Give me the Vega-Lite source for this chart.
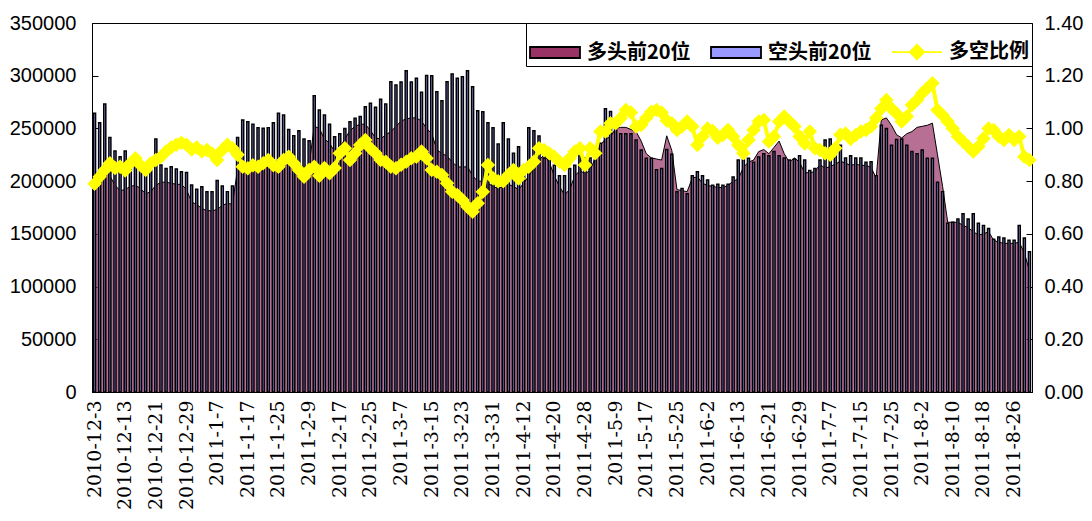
{
"$schema": "https://vega.github.io/schema/vega-lite/v6.json",
"width": 940, "height": 369,
"autosize": {"type": "none"},
"padding": {"left": 92, "top": 23, "right": 60, "bottom": 129},
"background": "white",
"config": {"view": {"stroke": "black", "strokeWidth": 1}, "font": "Liberation Sans",
  "legend": {"orient": "top-right", "direction": "horizontal", "offset": 0, "padding": 3, "strokeColor": "black", "fillColor": "white",
    "symbolSize": 2500, "symbolStrokeWidth": 1.8, "labelFont": "Noto Sans CJK SC", "labelFontSize": 20, "labelFontWeight": "bold", "labelColor": "black", "labelOffset": 6, "columnPadding": 16}},
"data": {"values": [
{"d":"2010-12-3","long":205000,"short":264300,"ratio":0.79},
{"d":"2010-12-6","long":205000,"short":255400,"ratio":0.817},
{"d":"2010-12-7","long":210000,"short":273200,"ratio":0.842},
{"d":"2010-12-8","long":205000,"short":241500,"ratio":0.868},
{"d":"2010-12-9","long":196000,"short":228600,"ratio":0.85},
{"d":"2010-12-10","long":191000,"short":223200,"ratio":0.855},
{"d":"2010-12-13","long":192000,"short":228600,"ratio":0.84},
{"d":"2010-12-14","long":195000,"short":218000,"ratio":0.868},
{"d":"2010-12-15","long":196000,"short":225000,"ratio":0.887},
{"d":"2010-12-16","long":193000,"short":215000,"ratio":0.86},
{"d":"2010-12-17","long":188000,"short":213000,"ratio":0.842},
{"d":"2010-12-20","long":190000,"short":210000,"ratio":0.868},
{"d":"2010-12-21","long":196000,"short":240000,"ratio":0.88},
{"d":"2010-12-22","long":199000,"short":215300,"ratio":0.893},
{"d":"2010-12-23","long":199000,"short":212100,"ratio":0.912},
{"d":"2010-12-24","long":198000,"short":213700,"ratio":0.928},
{"d":"2010-12-27","long":197000,"short":211500,"ratio":0.938},
{"d":"2010-12-28","long":197000,"short":209000,"ratio":0.946},
{"d":"2010-12-29","long":192000,"short":208300,"ratio":0.938},
{"d":"2010-12-30","long":180000,"short":196300,"ratio":0.92},
{"d":"2010-12-31","long":178000,"short":192200,"ratio":0.928},
{"d":"2011-1-4","long":174000,"short":194800,"ratio":0.912},
{"d":"2011-1-5","long":172000,"short":190000,"ratio":0.918},
{"d":"2011-1-6","long":172000,"short":190000,"ratio":0.905},
{"d":"2011-1-7","long":173000,"short":200500,"ratio":0.88},
{"d":"2011-1-10","long":177000,"short":195400,"ratio":0.918},
{"d":"2011-1-11","long":179000,"short":190000,"ratio":0.938},
{"d":"2011-1-12","long":178000,"short":195400,"ratio":0.925},
{"d":"2011-1-13","long":212000,"short":241500,"ratio":0.9},
{"d":"2011-1-14","long":215000,"short":258000,"ratio":0.855},
{"d":"2011-1-17","long":216000,"short":256400,"ratio":0.849},
{"d":"2011-1-18","long":214000,"short":253900,"ratio":0.86},
{"d":"2011-1-19","long":213000,"short":250700,"ratio":0.855},
{"d":"2011-1-20","long":216000,"short":250100,"ratio":0.868},
{"d":"2011-1-21","long":218000,"short":250700,"ratio":0.88},
{"d":"2011-1-24","long":217000,"short":255400,"ratio":0.86},
{"d":"2011-1-25","long":215000,"short":264300,"ratio":0.855},
{"d":"2011-1-26","long":226000,"short":262700,"ratio":0.88},
{"d":"2011-1-27","long":220000,"short":249100,"ratio":0.893},
{"d":"2011-1-28","long":212000,"short":243100,"ratio":0.868},
{"d":"2011-1-31","long":208000,"short":247900,"ratio":0.842},
{"d":"2011-2-1","long":200000,"short":240000,"ratio":0.817},
{"d":"2011-2-9","long":215000,"short":238400,"ratio":0.842},
{"d":"2011-2-10","long":252000,"short":281100,"ratio":0.855},
{"d":"2011-2-11","long":250000,"short":267500,"ratio":0.82},
{"d":"2011-2-14","long":240000,"short":262700,"ratio":0.85},
{"d":"2011-2-15","long":236000,"short":253900,"ratio":0.83},
{"d":"2011-2-16","long":228000,"short":242200,"ratio":0.85},
{"d":"2011-2-17","long":232000,"short":245000,"ratio":0.906},
{"d":"2011-2-18","long":240000,"short":250000,"ratio":0.925},
{"d":"2011-2-21","long":248000,"short":256400,"ratio":0.88},
{"d":"2011-2-22","long":252000,"short":259600,"ratio":0.906},
{"d":"2011-2-23","long":254000,"short":261200,"ratio":0.937},
{"d":"2011-2-24","long":254000,"short":270600,"ratio":0.956},
{"d":"2011-2-25","long":248000,"short":273800,"ratio":0.925},
{"d":"2011-2-28","long":241000,"short":270000,"ratio":0.906},
{"d":"2011-3-1","long":240000,"short":277600,"ratio":0.88},
{"d":"2011-3-2","long":244000,"short":273200,"ratio":0.874},
{"d":"2011-3-3","long":247000,"short":294300,"ratio":0.855},
{"d":"2011-3-4","long":252000,"short":291200,"ratio":0.849},
{"d":"2011-3-7","long":257000,"short":294000,"ratio":0.862},
{"d":"2011-3-8","long":259000,"short":304800,"ratio":0.874},
{"d":"2011-3-9","long":260000,"short":294000,"ratio":0.887},
{"d":"2011-3-10","long":260000,"short":297500,"ratio":0.893},
{"d":"2011-3-11","long":257000,"short":284200,"ratio":0.912},
{"d":"2011-3-14","long":250000,"short":300300,"ratio":0.887},
{"d":"2011-3-15","long":245000,"short":300000,"ratio":0.842},
{"d":"2011-3-16","long":230000,"short":284900,"ratio":0.836},
{"d":"2011-3-17","long":226000,"short":276300,"ratio":0.823},
{"d":"2011-3-18","long":224000,"short":294300,"ratio":0.792},
{"d":"2011-3-21","long":218000,"short":301600,"ratio":0.76},
{"d":"2011-3-22","long":214000,"short":297500,"ratio":0.747},
{"d":"2011-3-23","long":213000,"short":299100,"ratio":0.728},
{"d":"2011-3-24","long":214000,"short":304800,"ratio":0.703},
{"d":"2011-3-25","long":205000,"short":289600,"ratio":0.684},
{"d":"2011-3-28","long":200000,"short":266800,"ratio":0.716},
{"d":"2011-3-29","long":200000,"short":265900,"ratio":0.76},
{"d":"2011-3-30","long":198000,"short":255500,"ratio":0.861},
{"d":"2011-3-31","long":195000,"short":250700,"ratio":0.811},
{"d":"2011-4-1","long":193000,"short":235200,"ratio":0.8},
{"d":"2011-4-6","long":195000,"short":255500,"ratio":0.8},
{"d":"2011-4-7","long":197000,"short":240000,"ratio":0.823},
{"d":"2011-4-8","long":195000,"short":226400,"ratio":0.842},
{"d":"2011-4-11","long":192000,"short":232700,"ratio":0.81},
{"d":"2011-4-12","long":198000,"short":215000,"ratio":0.842},
{"d":"2011-4-13","long":205000,"short":250700,"ratio":0.855},
{"d":"2011-4-14","long":212000,"short":247900,"ratio":0.874},
{"d":"2011-4-15","long":220000,"short":242800,"ratio":0.925},
{"d":"2011-4-18","long":225000,"short":222000,"ratio":0.918},
{"d":"2011-4-19","long":218000,"short":224000,"ratio":0.906},
{"d":"2011-4-20","long":205000,"short":215000,"ratio":0.893},
{"d":"2011-4-21","long":195000,"short":205000,"ratio":0.874},
{"d":"2011-4-22","long":187000,"short":205000,"ratio":0.861},
{"d":"2011-4-25","long":192000,"short":212000,"ratio":0.887},
{"d":"2011-4-26","long":205000,"short":215000,"ratio":0.912},
{"d":"2011-4-27","long":210000,"short":226000,"ratio":0.925},
{"d":"2011-4-28","long":207000,"short":222000,"ratio":0.861},
{"d":"2011-4-29","long":210000,"short":222000,"ratio":0.925},
{"d":"2011-5-3","long":222000,"short":220000,"ratio":0.906},
{"d":"2011-5-4","long":234000,"short":236000,"ratio":0.988},
{"d":"2011-5-5","long":240000,"short":268700,"ratio":0.988},
{"d":"2011-5-6","long":242000,"short":266000,"ratio":1.02},
{"d":"2011-5-9","long":250000,"short":250000,"ratio":1.02},
{"d":"2011-5-10","long":251000,"short":245000,"ratio":1.04},
{"d":"2011-5-11","long":251000,"short":245000,"ratio":1.07},
{"d":"2011-5-12","long":249000,"short":245000,"ratio":1.06},
{"d":"2011-5-13","long":247000,"short":239000,"ratio":1.007},
{"d":"2011-5-16","long":238000,"short":229500,"ratio":1.013},
{"d":"2011-5-17","long":226000,"short":221700,"ratio":1.04},
{"d":"2011-5-18","long":222000,"short":221700,"ratio":1.063},
{"d":"2011-5-19","long":221000,"short":210700,"ratio":1.07},
{"d":"2011-5-20","long":220000,"short":212000,"ratio":1.06},
{"d":"2011-5-23","long":243000,"short":230000,"ratio":1.03},
{"d":"2011-5-24","long":229000,"short":225600,"ratio":1.02},
{"d":"2011-5-25","long":192000,"short":190000,"ratio":0.994},
{"d":"2011-5-26","long":191000,"short":193000,"ratio":1.007},
{"d":"2011-5-27","long":190000,"short":188000,"ratio":1.026},
{"d":"2011-5-30","long":203000,"short":205000,"ratio":1.007},
{"d":"2011-5-31","long":204000,"short":209000,"ratio":0.937},
{"d":"2011-6-1","long":198000,"short":205000,"ratio":0.969},
{"d":"2011-6-2","long":196000,"short":201000,"ratio":1.0},
{"d":"2011-6-3","long":195000,"short":196000,"ratio":0.99},
{"d":"2011-6-7","long":194000,"short":197000,"ratio":0.965},
{"d":"2011-6-8","long":194000,"short":196000,"ratio":0.975},
{"d":"2011-6-9","long":196000,"short":197000,"ratio":0.994},
{"d":"2011-6-10","long":200000,"short":204000,"ratio":0.969},
{"d":"2011-6-13","long":202000,"short":220000,"ratio":0.937},
{"d":"2011-6-14","long":213000,"short":220000,"ratio":0.906},
{"d":"2011-6-15","long":218000,"short":221700,"ratio":0.956},
{"d":"2011-6-16","long":220000,"short":218000,"ratio":0.994},
{"d":"2011-6-17","long":228000,"short":223000,"ratio":1.026},
{"d":"2011-6-20","long":230000,"short":226000,"ratio":1.032},
{"d":"2011-6-21","long":226000,"short":224000,"ratio":0.95},
{"d":"2011-6-22","long":232000,"short":228000,"ratio":0.969},
{"d":"2011-6-23","long":238000,"short":224000,"ratio":1.026},
{"d":"2011-6-24","long":226000,"short":222000,"ratio":1.045},
{"d":"2011-6-27","long":218000,"short":220000,"ratio":1.026},
{"d":"2011-6-28","long":222000,"short":221000,"ratio":1.007},
{"d":"2011-6-29","long":218000,"short":224000,"ratio":0.969},
{"d":"2011-6-30","long":208000,"short":220000,"ratio":0.943},
{"d":"2011-7-1","long":208000,"short":210000,"ratio":0.988},
{"d":"2011-7-4","long":209000,"short":212000,"ratio":0.925},
{"d":"2011-7-5","long":216000,"short":220000,"ratio":0.918},
{"d":"2011-7-6","long":212000,"short":239000,"ratio":0.906},
{"d":"2011-7-7","long":214000,"short":240000,"ratio":0.9},
{"d":"2011-7-8","long":216000,"short":231000,"ratio":0.925},
{"d":"2011-7-11","long":219000,"short":234000,"ratio":0.976},
{"d":"2011-7-12","long":217000,"short":222000,"ratio":0.981},
{"d":"2011-7-13","long":215000,"short":224000,"ratio":0.96},
{"d":"2011-7-14","long":216000,"short":222000,"ratio":0.975},
{"d":"2011-7-15","long":215000,"short":222000,"ratio":0.988},
{"d":"2011-7-18","long":215000,"short":218000,"ratio":0.994},
{"d":"2011-7-19","long":213000,"short":218500,"ratio":1.007},
{"d":"2011-7-20","long":203000,"short":205000,"ratio":1.04},
{"d":"2011-7-21","long":258000,"short":253000,"ratio":1.076},
{"d":"2011-7-22","long":260000,"short":250000,"ratio":1.108},
{"d":"2011-7-25","long":253000,"short":234000,"ratio":1.076},
{"d":"2011-7-26","long":244000,"short":239600,"ratio":1.057},
{"d":"2011-7-27","long":241000,"short":240000,"ratio":1.026},
{"d":"2011-7-28","long":245000,"short":234000,"ratio":1.045},
{"d":"2011-7-29","long":247000,"short":228000,"ratio":1.089},
{"d":"2011-8-1","long":251000,"short":226000,"ratio":1.108},
{"d":"2011-8-2","long":252000,"short":229600,"ratio":1.133},
{"d":"2011-8-3","long":253000,"short":221600,"ratio":1.152},
{"d":"2011-8-4","long":255000,"short":221600,"ratio":1.171},
{"d":"2011-8-5","long":225000,"short":199000,"ratio":1.07},
{"d":"2011-8-8","long":195000,"short":190000,"ratio":1.05},
{"d":"2011-8-9","long":161000,"short":160000,"ratio":1.026},
{"d":"2011-8-10","long":161000,"short":161000,"ratio":1.0},
{"d":"2011-8-11","long":161000,"short":164000,"ratio":0.969},
{"d":"2011-8-12","long":158000,"short":169000,"ratio":0.95},
{"d":"2011-8-15","long":156000,"short":164000,"ratio":0.931},
{"d":"2011-8-16","long":152000,"short":169000,"ratio":0.912},
{"d":"2011-8-17","long":149000,"short":160000,"ratio":0.931},
{"d":"2011-8-18","long":150000,"short":158000,"ratio":0.962},
{"d":"2011-8-19","long":152000,"short":155000,"ratio":1.0},
{"d":"2011-8-22","long":144000,"short":145000,"ratio":0.994},
{"d":"2011-8-23","long":142000,"short":147000,"ratio":0.969},
{"d":"2011-8-24","long":141000,"short":146000,"ratio":0.956},
{"d":"2011-8-25","long":141000,"short":144000,"ratio":0.975},
{"d":"2011-8-26","long":141000,"short":144000,"ratio":0.956},
{"d":"2011-8-29","long":142000,"short":158000,"ratio":0.969},
{"d":"2011-8-30","long":132000,"short":146000,"ratio":0.893},
{"d":"2011-8-31","long":115000,"short":133000,"ratio":0.88}
]},
"encoding": {
  "x": {"field": "d", "type": "nominal", "sort": null,
    "scale": {"paddingInner": 0.6, "paddingOuter": 0.3},
    "axis": {"title": null, "labelAngle": -90, "labelFont": "DejaVu Serif", "labelFontSize": 19, "labelColor": "black", "ticks": false, "domainColor": "black", "labelPadding": 8,
      "values": ["2010-12-3","2010-12-13","2010-12-21","2010-12-29","2011-1-7","2011-1-17","2011-1-25","2011-2-9","2011-2-17","2011-2-25","2011-3-7","2011-3-15","2011-3-23","2011-3-31","2011-4-12","2011-4-20","2011-4-28","2011-5-9","2011-5-17","2011-5-25","2011-6-2","2011-6-13","2011-6-21","2011-6-29","2011-7-7","2011-7-15","2011-7-25","2011-8-2","2011-8-10","2011-8-18","2011-8-26"]}}
},
"layer": [
  {"layer": [
    {"mark": {"type": "area", "color": "#993366", "line": {"color": "black", "strokeWidth": 1}},
     "encoding": {"y": {"field": "long", "type": "quantitative", "scale": {"domain": [0, 350000], "nice": false},
       "axis": {"title": null, "values": [0,50000,100000,150000,200000,250000,300000,350000], "format": "d", "labelFont": "Liberation Sans", "labelFontSize": 20, "labelColor": "black", "tickSize": -6, "tickColor": "black", "domainColor": "black", "labelPadding": 22, "grid": false}}}},
    {"mark": {"type": "bar", "strokeWidth": 1.5},
     "encoding": {"y": {"field": "short", "type": "quantitative",
       "axis": {"title": null, "values": [0,50000,100000,150000,200000,250000,300000,350000], "format": "d", "labelFont": "Liberation Sans", "labelFontSize": 20, "labelColor": "black", "tickSize": -6, "tickColor": "black", "domainColor": "black", "labelPadding": 22, "grid": false}},
      "color": {"datum": "空头前20位",
        "scale": {"domain": ["多头前20位", "空头前20位", "多空比例"], "range": ["#993366", "#9999FF", "#FFFF00"]},
        "legend": {"title": null}},
      "stroke": {"datum": "空头前20位",
        "scale": {"domain": ["多头前20位", "空头前20位", "多空比例"], "range": ["#000000", "#000000", "#FFFF00"]},
        "legend": {"title": null}}}}
  ]},
  {"mark": {"type": "line", "color": "#FFFF00", "strokeWidth": 4, "point": {"filled": true, "size": 2500, "color": "#FFFF00"}},
   "encoding": {"y": {"field": "ratio", "type": "quantitative", "scale": {"domain": [0, 1.4], "nice": false},
     "axis": {"orient": "right", "title": null, "values": [0,0.2,0.4,0.6,0.8,1.0,1.2,1.4], "format": ".2f", "labelFont": "Liberation Sans", "labelFontSize": 20, "labelColor": "black", "tickSize": -6, "tickColor": "black", "domainColor": "black", "labelPadding": 18, "grid": false}},
     "shape": {"datum": "多空比例",
        "scale": {"domain": ["多头前20位", "空头前20位", "多空比例"], "range": ["M-1,-0.22H1V0.22H-1Z", "M-1,-0.22H1V0.22H-1Z", "M-1,0H1M-0.29,0L0,-0.29L0.29,0L0,0.29Z"]},
        "legend": {"title": null}}}}
],
"resolve": {"scale": {"y": "independent"}}
}
